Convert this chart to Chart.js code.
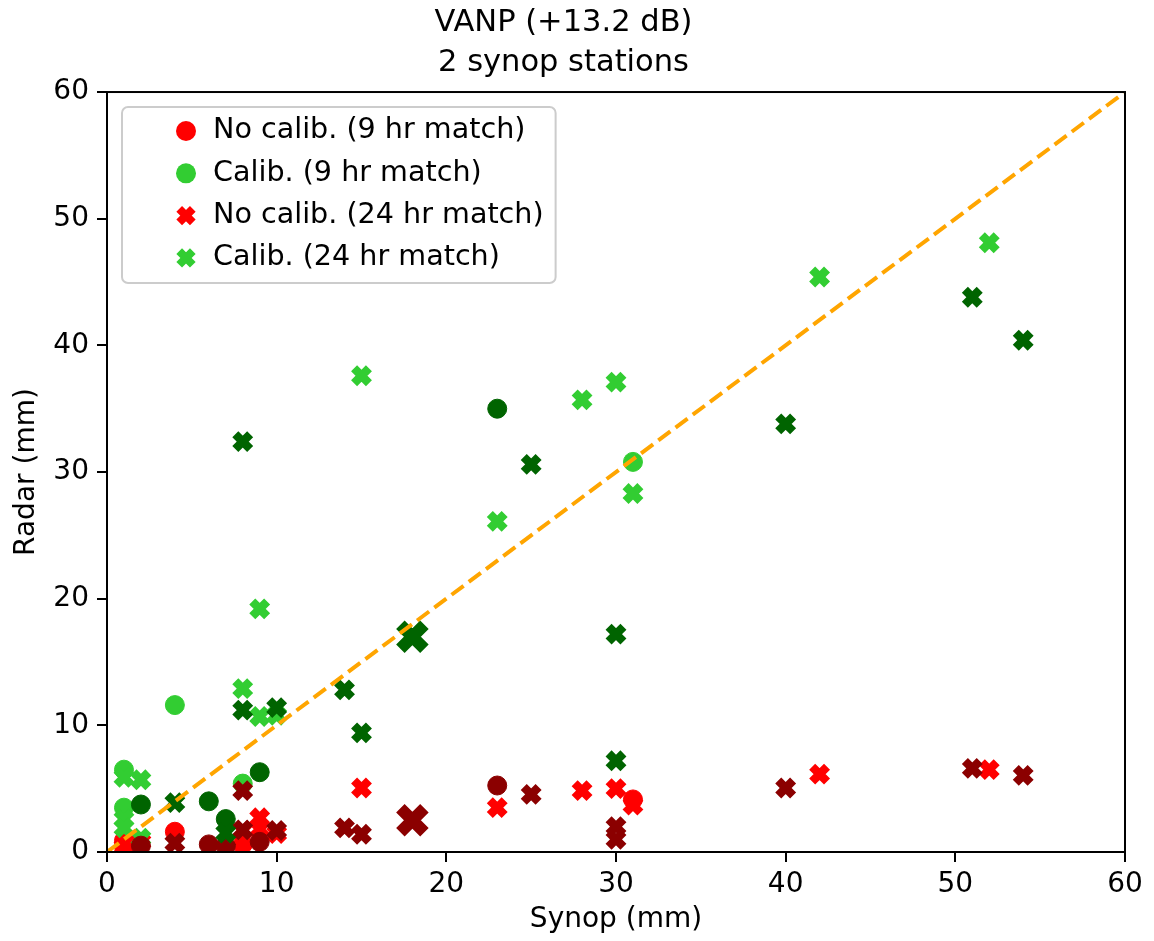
<!DOCTYPE html>
<html>
<head>
<meta charset="utf-8">
<script src="https://cdn.jsdelivr.net/npm/chart.js@4.4.0/dist/chart.umd.min.js"></script>
<style>
  body { margin: 0; background: #fff; }
  #wrap { width: 1154px; height: 941px; }
</style>
</head>
<body>
<div id="wrap"><canvas id="myChart" width="1154" height="941"></canvas></div>
<script>
// station 1 (legend colours) - [synop, radar] in mm
var noCalib9 = [[1, 0.9], [1, 0.45], [4, 1.6], [8, 0.6], [31, 4.15]];
var calib9 = [[1, 6.5], [1, 3.5], [4, 11.6], [8, 5.4], [31, 30.8]];
var noCalib24 = [[1, 0.4], [2, 0.8], [8, 1.7], [9, 2.7], [9, 1.8], [10, 1.45], [15, 5.05], [23, 3.5],
                 [28, 4.85], [30, 5.0], [31, 3.7], [42, 6.15], [52, 6.5]];
var calib24 = [[1, 5.9], [1, 2.6], [1, 1.9], [2, 5.7], [2, 1.1], [8, 12.9], [9, 10.7], [10, 10.8],
               [9, 19.2], [15, 37.6], [23, 26.1], [28, 35.7], [30, 37.1], [31, 28.3], [42, 45.4], [52, 48.1]];

// station 2 (dark colours, not in legend)
var noCalib9b = [[2, 0.5], [6, 0.6], [7, 0.45], [9, 0.8], [23, 5.25]];
var calib9b = [[2, 3.75], [6, 4.0], [7, 2.6], [9, 6.3], [23, 35.0]];
var noCalib24b = [[4, 0.7], [7, 0.25], [8, 4.85], [8, 1.75], [10, 1.7], [14, 1.9], [15, 1.4], [25, 4.55],
                  [30, 2.0], [30, 1.0], [40, 5.05], [51, 6.6], [54, 6.05]];
var calib24b = [[4, 3.9], [7, 1.5], [8, 11.2], [8, 32.4], [10, 11.4], [14, 12.8], [15, 9.4], [25, 30.6],
                [30, 17.2], [30, 7.2], [40, 33.8], [51, 43.8], [54, 40.4]];
// double matches (drawn bigger)
var noCalib24bDouble = [[18, 2.5]];
var calib24bDouble = [[18, 17.0]];

var oneToOne = [[0, 0], [60, 60]];
var axisTicks = [0, 10, 20, 30, 40, 50, 60];

const FONT = 'DejaVu Sans';

function pts(arr) {
    return arr.map(p => ({x: p[0], y: p[1]}));
}

function circleSet(label, data, color) {
    return {
        label: label, data: pts(data), pointStyle: 'circle',
        pointRadius: 9.5, pointHoverRadius: 9.5, pointBorderWidth: 1,
        pointBackgroundColor: color, pointBorderColor: color
    };
}

function crossSet(label, data, color, big) {
    return {
        label: label, data: pts(data), pointStyle: 'crossRot',
        pointRadius: big ? 17 : 10.5, pointHoverRadius: big ? 17 : 10.5,
        pointBorderWidth: big ? 12 : 8.5,
        pointBackgroundColor: color, pointBorderColor: color
    };
}

// first in list = drawn on top
const datasets = [
    {
        type: 'line', label: '1:1', data: pts(oneToOne),
        borderColor: '#ffa500', borderWidth: 4, borderDash: [15, 6.5],
        pointRadius: 0, fill: false
    },
    crossSet('calib24b', calib24bDouble, '#006400', true),
    crossSet('calib24b', calib24b, '#006400'),
    crossSet('noCalib24b', noCalib24bDouble, '#8b0000', true),
    crossSet('noCalib24b', noCalib24b, '#8b0000'),
    circleSet('calib9b', calib9b, '#006400'),
    circleSet('noCalib9b', noCalib9b, '#8b0000'),
    crossSet('Calib. (24 hr match)', calib24, '#32cd32'),
    crossSet('No calib. (24 hr match)', noCalib24, '#ff0000'),
    circleSet('Calib. (9 hr match)', calib9, '#32cd32'),
    circleSet('No calib. (9 hr match)', noCalib9, '#ff0000')
];

const legendEntries = [
    {text: 'No calib. (9 hr match)', color: '#ff0000', shape: 'circle'},
    {text: 'Calib. (9 hr match)', color: '#32cd32', shape: 'circle'},
    {text: 'No calib. (24 hr match)', color: '#ff0000', shape: 'x'},
    {text: 'Calib. (24 hr match)', color: '#32cd32', shape: 'x'}
];

function drawMarker(ctx, shape, x, y, color) {
    ctx.save();
    ctx.fillStyle = color;
    ctx.strokeStyle = color;
    if (shape === 'circle') {
        ctx.beginPath();
        ctx.arc(x, y, 10, 0, Math.PI * 2);
        ctx.fill();
    } else {
        const d = 6.8;
        ctx.lineWidth = 8;
        ctx.lineCap = 'butt';
        ctx.beginPath();
        ctx.moveTo(x - d, y - d); ctx.lineTo(x + d, y + d);
        ctx.moveTo(x - d, y + d); ctx.lineTo(x + d, y - d);
        ctx.stroke();
    }
    ctx.restore();
}

const frameAndLegend = {
    id: 'frameAndLegend',
    afterDraw(chart) {
        const ctx = chart.ctx;
        const a = chart.chartArea;
        ctx.save();
        ctx.strokeStyle = '#000';
        ctx.lineWidth = 2;
        ctx.strokeRect(a.left, a.top, a.right - a.left, a.bottom - a.top);

        // legend box
        ctx.font = '28.6px "' + FONT + '"';
        let maxW = 0;
        legendEntries.forEach(e => { maxW = Math.max(maxW, ctx.measureText(e.text).width); });
        const bx = a.left + 15, by = a.top + 15;
        const bw = 91 + maxW + 12, bh = 176;
        ctx.beginPath();
        ctx.roundRect(bx, by, bw, bh, 6);
        ctx.fillStyle = 'rgba(255,255,255,0.8)';
        ctx.fill();
        ctx.strokeStyle = '#cccccc';
        ctx.lineWidth = 2;
        ctx.stroke();

        ctx.textBaseline = 'middle';
        ctx.textAlign = 'left';
        legendEntries.forEach((e, i) => {
            const cy = by + 24 + i * 42.3;
            drawMarker(ctx, e.shape, bx + 64, cy, e.color);
            ctx.fillStyle = '#000';
            ctx.fillText(e.text, bx + 91, cy);
        });
        ctx.restore();
    }
};

const ctx = document.getElementById('myChart');

const myChart = new Chart(ctx, {
    type: 'scatter',
    data: {datasets: datasets},
    options: {
        responsive: false,
        animation: false,
        layout: {padding: {left: 0, right: 27, top: 0, bottom: 0}},
        plugins: {
            legend: {display: false},
            tooltip: {enabled: false},
            title: {
                display: true,
                text: ['VANP (+13.2 dB)', '2 synop stations'],
                color: '#000',
                font: {family: FONT, size: 30.5, weight: 'normal', lineHeight: 1.33},
                padding: {top: 2.5, bottom: 8.4}
            }
        },
        scales: {
            x: {
                type: 'linear', min: 0, max: 60,
                afterBuildTicks: scale => { scale.ticks = axisTicks.map(v => ({value: v})); },
                afterFit: scale => { scale.height = 89; },
                grid: {drawOnChartArea: false, drawTicks: true, tickLength: 10, color: '#000', lineWidth: 2},
                border: {display: false},
                ticks: {color: '#000', padding: 6, font: {family: FONT, size: 28}, maxRotation: 0},
                title: {
                    display: true, text: 'Synop (mm)', color: '#000',
                    font: {family: FONT, size: 28}, padding: {top: 0, bottom: 4}
                }
            },
            y: {
                type: 'linear', min: 0, max: 60,
                afterBuildTicks: scale => { scale.ticks = axisTicks.map(v => ({value: v})); },
                afterFit: scale => { scale.width = 107; },
                grid: {drawOnChartArea: false, drawTicks: true, tickLength: 10, color: '#000', lineWidth: 2},
                border: {display: false},
                ticks: {color: '#000', padding: 8, font: {family: FONT, size: 28}},
                title: {
                    display: true, text: 'Radar (mm)', color: '#000',
                    font: {family: FONT, size: 28}, padding: {top: 10, bottom: 0}
                }
            }
        }
    },
    plugins: [frameAndLegend]
});
</script>
</body>
</html>
